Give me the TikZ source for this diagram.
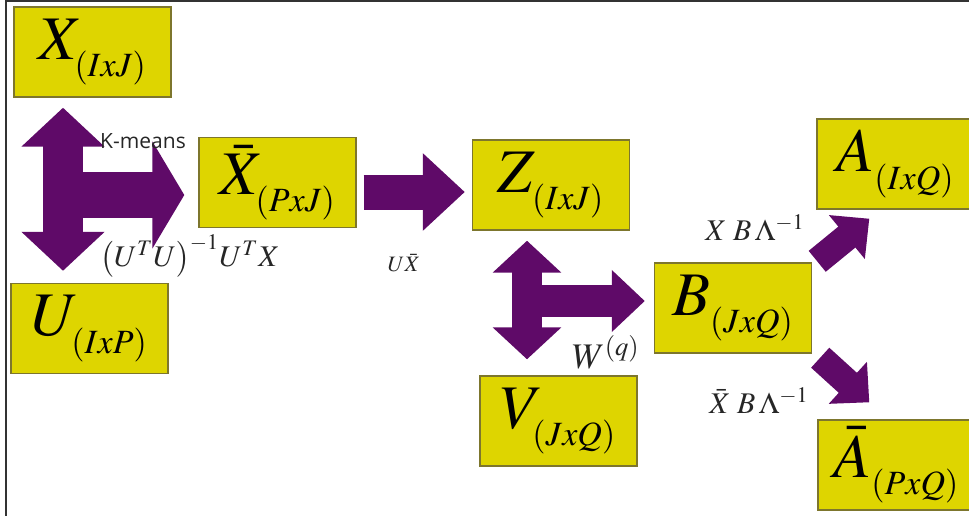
\documentclass[tikz,border=0pt]{standalone}
\usepackage{mathptmx}
\usepackage[no-math]{fontspec}
\setmainfont{Liberation Serif}
\newfontfamily\kmfont{Open Sans}
\usepackage{xcolor}
\definecolor{boxfill}{RGB}{222,213,0}
\definecolor{boxedge}{RGB}{125,118,45}
\definecolor{flowc}{RGB}{95,10,104}
\usetikzlibrary{arrows.meta,calc}
\newcommand\msub[1]{_{\lower4pt\hbox{\fontsize{17}{20}\selectfont$#1$}}}

\begin{document}
\begin{tikzpicture}[x=.5pt,y=-.5pt,
    mat/.style={rectangle,fill=boxfill,draw=boxedge,line width=.7pt,
      minimum width=78.5pt,minimum height=45pt,inner sep=0pt,
      font=\fontsize{31}{36}\selectfont},
    flow/.style={draw=flowc,line width=#1},
    lbl/.style={inner sep=0pt,text=black!85}]
    \useasboundingbox (0,0) rectangle (969,516);
    \draw[black!80,line width=1pt] (969,1) -- (6,1) -- (6,516);
    % matrices
    \node[mat] (X) at (92.5,52) {$X\msub{(IxJ)}$};
    \node[mat] (Xbar) at (277.5,182.5) {$\bar{X}\msub{(PxJ)}$};
    \node[mat] (U) at (89.5,328.5) {$U\msub{(IxP)}$};
    \node[mat] (Z) at (551,185) {$Z\msub{(IxJ)}$};
    \node[mat] (B) at (733,308) {$B\msub{(JxQ)}$};
    \node[mat] (V) at (558.5,421) {$V\msub{(JxQ)}$};
    \node[mat] (A) at (895.5,164) {$A\msub{(IxQ)}$};
    \node[mat] (Abar) at (896.5,465) {$\bar{A}\msub{(PxQ)}$};
    % k-means step
    \coordinate (kt) at ($(X.south)+(-29.5,10)$);
    \coordinate (kb) at ($(U.north)+(-26.5,-12)$);
    \coordinate (kx) at ($(Xbar.west)+(-14,12.5)$);
    \draw[flow=20pt,{Triangle[width=40.5pt,length=19.5pt]}-{Triangle[width=40.5pt,length=19.5pt]}] (kt) -- (kb);
    \draw[flow=23pt,-{Triangle[width=53pt,length=16pt]}] (kt |- kx) -- (kx);
    \coordinate (zs) at ($(Xbar.east)+(7,9.5)$);
    \coordinate (zt) at ($(zs -| Z.west)+(-7,0)$);
    \draw[flow=17.5pt,-{Triangle[width=37.5pt,length=21pt]}] (zs) -- (zt);
    % svd step
    \coordinate (wt) at ($(Z.south)+(-24,10)$);
    \coordinate (wb) at ($(V.north)+(-31.5,-16)$);
    \coordinate (wx) at ($(B.west)+(-9,-7)$);
    \draw[flow=15pt,{Triangle[width=33.5pt,length=16pt]}-{Triangle[width=33.5pt,length=16pt]}] (wt) -- (wb);
    \draw[flow=16pt,-{Triangle[width=30pt,length=16.5pt]}] (wt |- wx) -- (wx);
    \coordinate (as) at ($(B.north east)+(5,-1)$);
    \coordinate (atip) at ($(A.south west)+(53,9)$);
    \draw[flow=13.5pt,-{Triangle[width=27.5pt,length=14.5pt]}] (as) -- (atip);
    \coordinate (bs) at ($(B.south east)+(8,4)$);
    \coordinate (btip) at ($(Abar.north west)+(52,-17)$);
    \draw[flow=13.5pt,-{Triangle[width=27.5pt,length=14.5pt]}] (bs) -- (btip);
    % labels
    \node[lbl,font=\kmfont\fontsize{10.5}{12}\selectfont] (km) at (143,141) {K-means};
    \node[lbl,font=\fontsize{15}{18}\selectfont] (uinv) at (190,256) {$\bigl(U^TU\bigr)^{-1}U^TX$};
    \node[lbl,font=\fontsize{11}{13}\selectfont] (ux) at (404,263) {$U\bar{X}$};
    \node[lbl,font=\fontsize{18}{21}\selectfont] (wq) at (606,352) {$W^{(q)}$};
    \node[lbl,font=\fontsize{15}{18}\selectfont] (xb) at (755,228) {$X\;B\,\Lambda^{-1}$};
    \node[lbl,font=\fontsize{15}{18}\selectfont] (xbb) at (759,401) {$\bar{X}\;B\,\Lambda^{-1}$};
\end{tikzpicture}
\end{document}
